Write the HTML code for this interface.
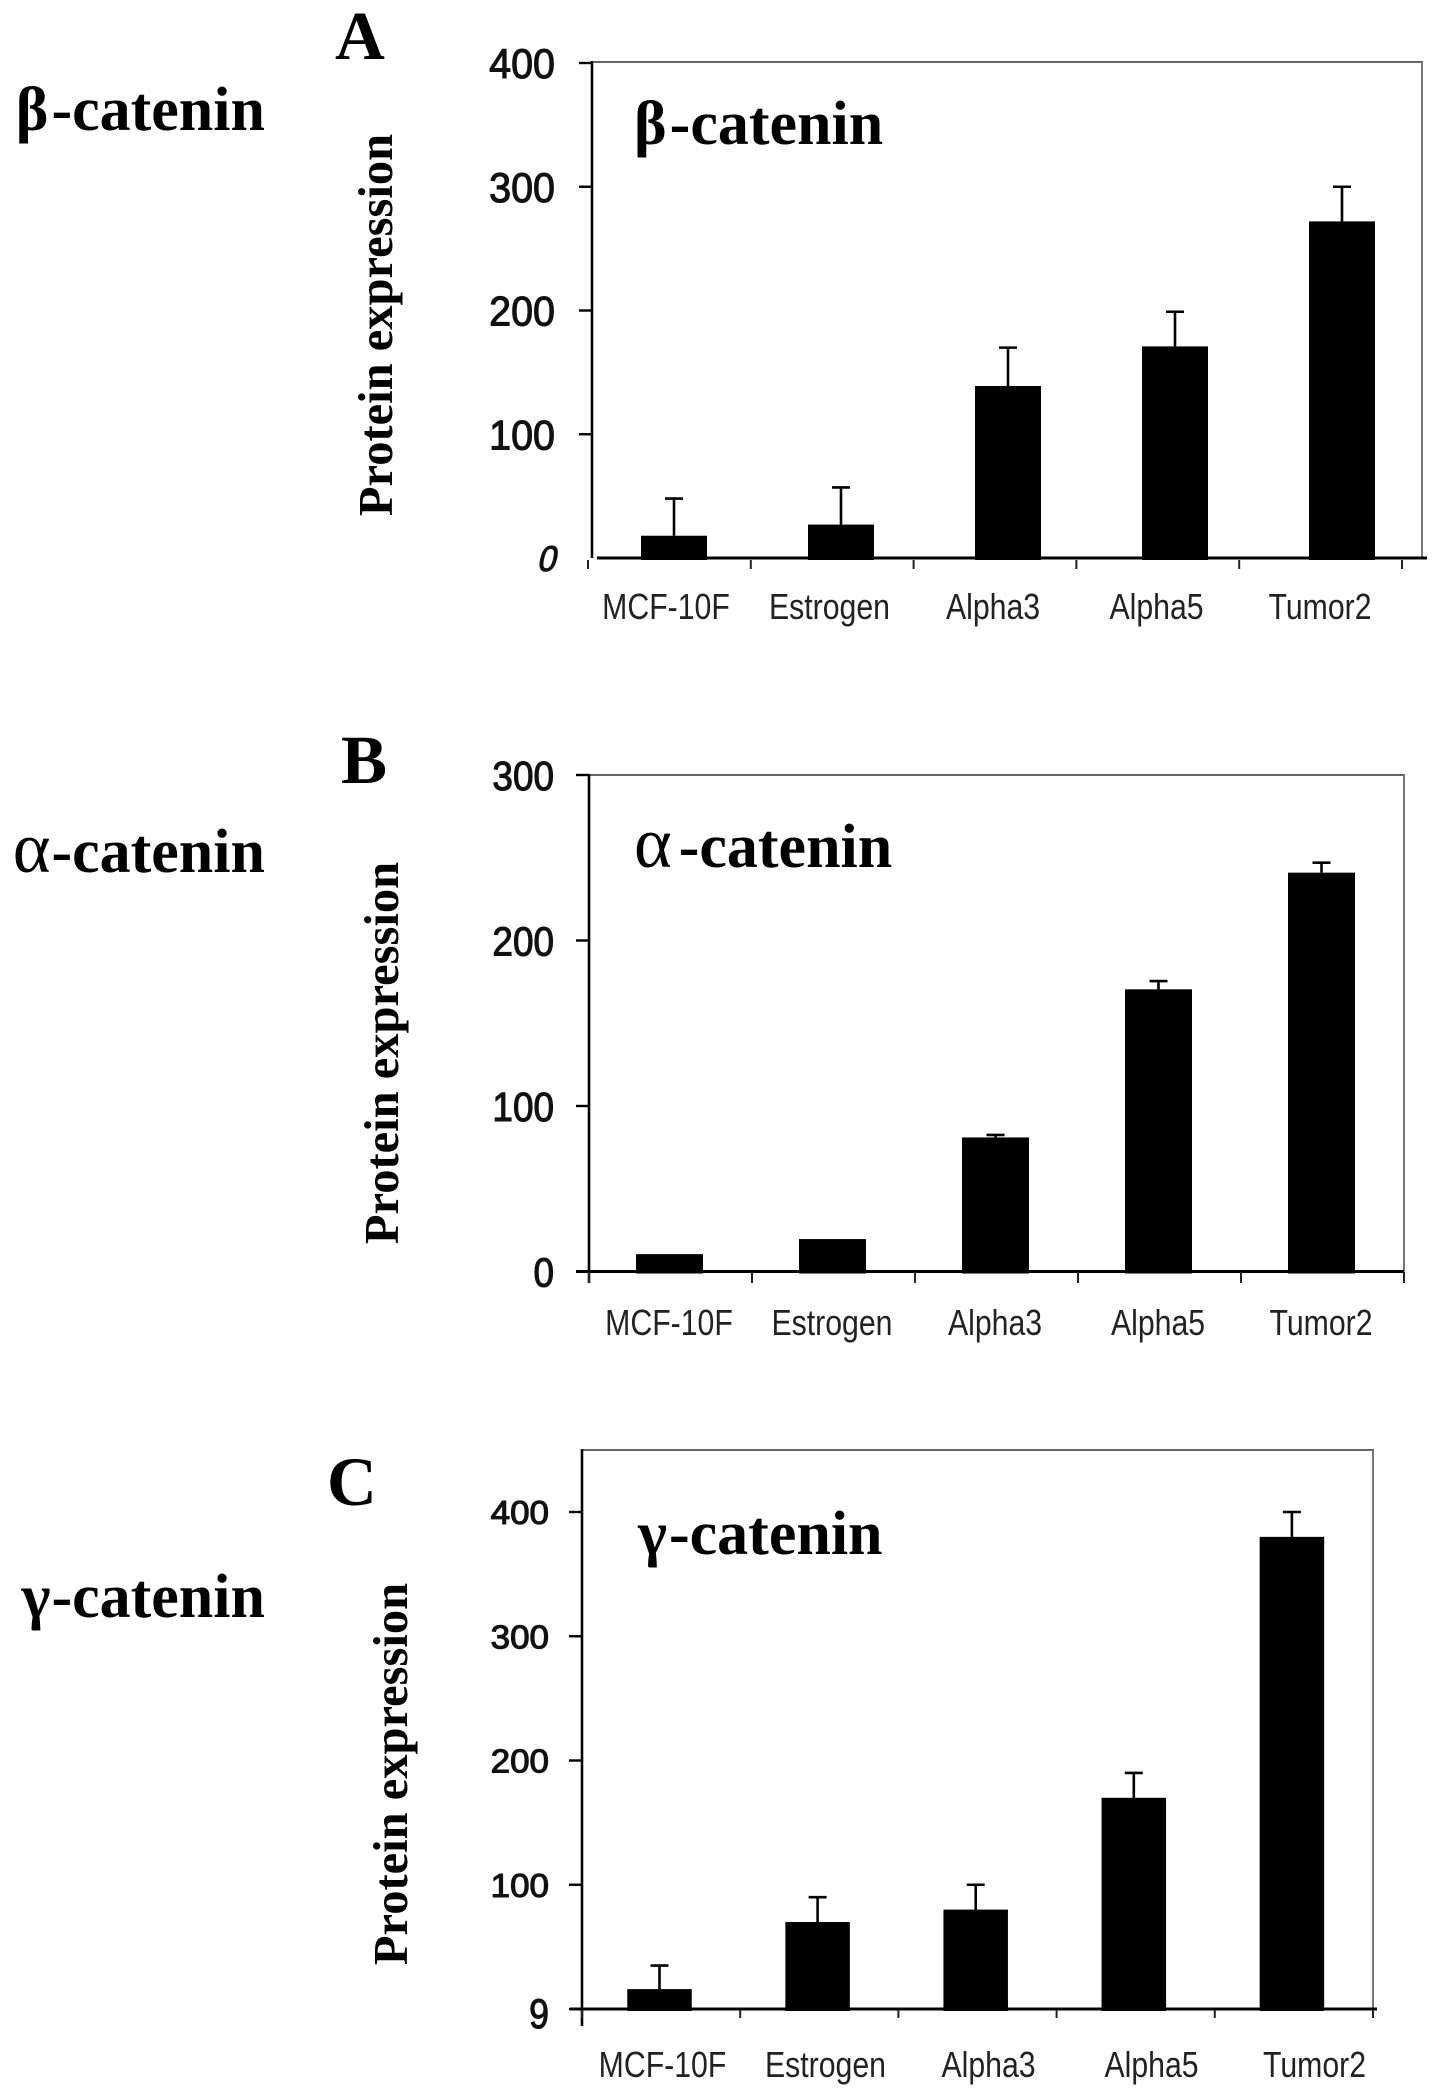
<!DOCTYPE html>
<html>
<head>
<meta charset="utf-8">
<title>Catenin protein expression</title>
<style>
html,body{margin:0;padding:0;background:#fff;}
svg{display:block;}
.serif{font-family:"Liberation Serif",serif;font-weight:bold;fill:#000;}
.tick{font-family:"Liberation Sans",sans-serif;fill:#111;stroke:#111;stroke-width:1.1px;}
.cat{font-family:"Liberation Sans",sans-serif;fill:#222;}
</style>
</head>
<body>
<svg id="figure" xmlns="http://www.w3.org/2000/svg" width="1441" height="2098" viewBox="0 0 1441 2098">
<rect x="0" y="0" width="1441" height="2098" fill="#fff"/>
<text class="serif" x="265" y="130" text-anchor="end" font-size="62">β<tspan dx="3">-catenin</tspan></text>
<text class="serif" x="265" y="872" text-anchor="end" font-size="62"><tspan font-size="72" font-weight="normal">α</tspan><tspan dx="1">-catenin</tspan></text>
<text class="serif" x="265" y="1617" text-anchor="end" font-size="62">γ<tspan dx="1">-catenin</tspan></text>
<text class="serif" x="335" y="59" font-size="69">A</text>
<text class="serif" x="341" y="783" font-size="69">B</text>
<text class="serif" x="327" y="1505" font-size="69">C</text>
<text class="serif" x="634" y="144" font-size="62">β<tspan dx="3">-catenin</tspan></text>
<text class="serif" x="634" y="867" font-size="62"><tspan font-size="72" font-weight="normal">α</tspan><tspan dx="7">-catenin</tspan></text>
<text class="serif" x="638" y="1554" font-size="62">γ<tspan dx="2">-catenin</tspan></text>
<text class="serif" transform="translate(392,325) rotate(-90)" text-anchor="middle" font-size="48.5">Protein expression</text>
<text class="serif" transform="translate(398,1053) rotate(-90)" text-anchor="middle" font-size="48.5">Protein expression</text>
<text class="serif" transform="translate(407,1774) rotate(-90)" text-anchor="middle" font-size="48.5">Protein expression</text>
</svg>
<script>
const categories = ["MCF-10F", "Estrogen", "Alpha3", "Alpha5", "Tumor2"];

const betaValues = [18, 27, 139, 171, 272];
const betaErrorTops = [48, 57, 170, 199, 300];
const betaTicks = [0, 100, 200, 300, 400];
const betaTickLabels = ["0", "100", "200", "300", "400"];

const alphaValues = [10.5, 19.6, 81, 170.5, 241];
const alphaErrorTops = [10.5, 19.6, 82.5, 175.5, 247];
const alphaTicks = [0, 100, 200, 300];
const alphaTickLabels = ["0", "100", "200", "300"];

const gammaValues = [16, 70, 80, 170, 380];
const gammaErrorTops = [35, 90, 100, 190, 400];
const gammaTicks = [0, 100, 200, 300, 400];
const gammaTickLabels = ["9", "100", "200", "300", "400"];

const panels = [
  {id:"a", values:betaValues, errs:betaErrorTops, ticks:betaTicks, labels:betaTickLabels,
   axisX:592, top:62, base:558, right:1422, k:1.2375, baseEnd:1427, axisBottom:558, baseStart:597,
   barX:674, barStep:167, barW:66, tickX:588, tickStep:162.8, tickLen:9, tickY:560,
   catX:666, catStep:163.5, catY:619, tickLabelX:555, numSize:42, numSx:.94, numDy:15,
   zeroSize:36, zeroSx:.92, zeroDy:13, zeroSkew:-14},
  {id:"b", values:alphaValues, errs:alphaErrorTops, ticks:alphaTicks, labels:alphaTickLabels,
   axisX:589, top:775, base:1271.5, right:1404, k:1.655, baseEnd:1404, axisBottom:1283, baseStart:576,
   barX:669.5, barStep:163, barW:67, tickX:589, tickStep:163, tickLen:11, tickY:1272,
   catX:669, catStep:163, catY:1335, tickLabelX:554, numSize:41, numSx:.9, numDy:15,
   zeroSize:41, zeroSx:.9, zeroDy:15, zeroSkew:0},
  {id:"c", values:gammaValues, errs:gammaErrorTops, ticks:gammaTicks, labels:gammaTickLabels,
   axisX:582, top:1450, base:2009, right:1373, k:1.2425, baseEnd:1377, axisBottom:2026, baseStart:570,
   barX:659.5, barStep:158.1, barW:64.5, tickX:582, tickStep:158.2, tickLen:8, tickY:2010,
   catX:662.5, catStep:163, catY:2077, tickLabelX:549, numSize:33, numSx:1.06, numDy:12,
   zeroSize:42, zeroSx:.85, zeroDy:19, zeroSkew:0}
];

const svg = document.getElementById("figure");
const NS = "http://www.w3.org/2000/svg";

function make(tag, attrs, parent) {
  const node = document.createElementNS(NS, tag);
  for (const key in attrs) node.setAttribute(key, attrs[key]);
  parent.appendChild(node);
  return node;
}
function yScale(p, v) { return p.base - v * p.k; }
function barCenter(p, i) { return p.barX + p.barStep * i; }

panels.forEach(function (p) {
  const g = make("g", {}, svg);
  
  

  // gray frame: top + right
  const frameTop = make("line", {x1:p.axisX, x2:p.right + 1, y1:p.top, y2:p.top, stroke:"#666", "stroke-width":2}, g);
  
  
  const frameRight = make("line", {x1:p.right, x2:p.right, y1:p.top, y2:p.base, stroke:"#777", "stroke-width":2}, g);
  
  

  // y axis
  const yAxis = make("line", {x1:p.axisX, x2:p.axisX, y1:p.top - 1, y2:p.axisBottom, stroke:"#000", "stroke-width":2.6}, g);
  
  

  // y ticks + labels
  p.ticks.forEach(function (t, i) {
    const y = yScale(p, t);
    const isZero = t === 0;
    if (!(p.id === "a" && isZero)) {
      const tk = make("line", {x1:p.axisX - 13, x2:p.axisX, y1:y, y2:y, stroke:"#000", "stroke-width":2.4}, g);
      
      
    }
    const size = isZero ? p.zeroSize : p.numSize;
    const sx = isZero ? p.zeroSx : p.numSx;
    const dy = isZero ? p.zeroDy : p.numDy;
    const skew = isZero && p.zeroSkew ? " skewX(" + p.zeroSkew + ")" : "";
    const lab = make("text", {class:"tick", "font-size":size, "text-anchor":"end",
      transform:"translate(" + p.tickLabelX + "," + (y + dy) + ") scale(" + sx + ",1)" + skew}, g);
    lab.textContent = p.labels[i];
    
    
  });

  // baseline
  const baseline = make("line", {x1:p.baseStart, x2:p.baseEnd, y1:p.base, y2:p.base, stroke:"#000", "stroke-width":3}, g);
  
  

  // x ticks
  for (let i = 0; i <= categories.length; i++) {
    const x = p.tickX + p.tickStep * i;
    const xt = make("line", {x1:x, x2:x, y1:p.tickY, y2:p.tickY + p.tickLen, stroke:"#222", "stroke-width":2}, g);
    
    
  }

  // bars, error bars, category labels
  categories.forEach(function (c, i) {
    const cx = barCenter(p, i);
    const top = yScale(p, p.values[i]);
    const errTop = yScale(p, p.errs[i]);

    if (p.errs[i] > p.values[i]) {
      const stem = make("line", {x1:cx, x2:cx, y1:errTop, y2:top, stroke:"#000", "stroke-width":2.6}, g);
      
      
      const cap = make("line", {x1:cx - 9, x2:cx + 9, y1:errTop, y2:errTop, stroke:"#000", "stroke-width":2.6}, g);
      
      
    }

    const bar = make("rect", {x:cx - p.barW / 2, y:top, width:p.barW, height:p.base + 2 - top, fill:"#000"}, g);
    
    

    const cat = make("text", {class:"cat", "font-size":36, "text-anchor":"middle",
      transform:"translate(" + (p.catX + p.catStep * i) + "," + p.catY + ") scale(.84,1)"}, g);
    cat.textContent = c;
    
    
  });
});
</script>
</body>
</html>
